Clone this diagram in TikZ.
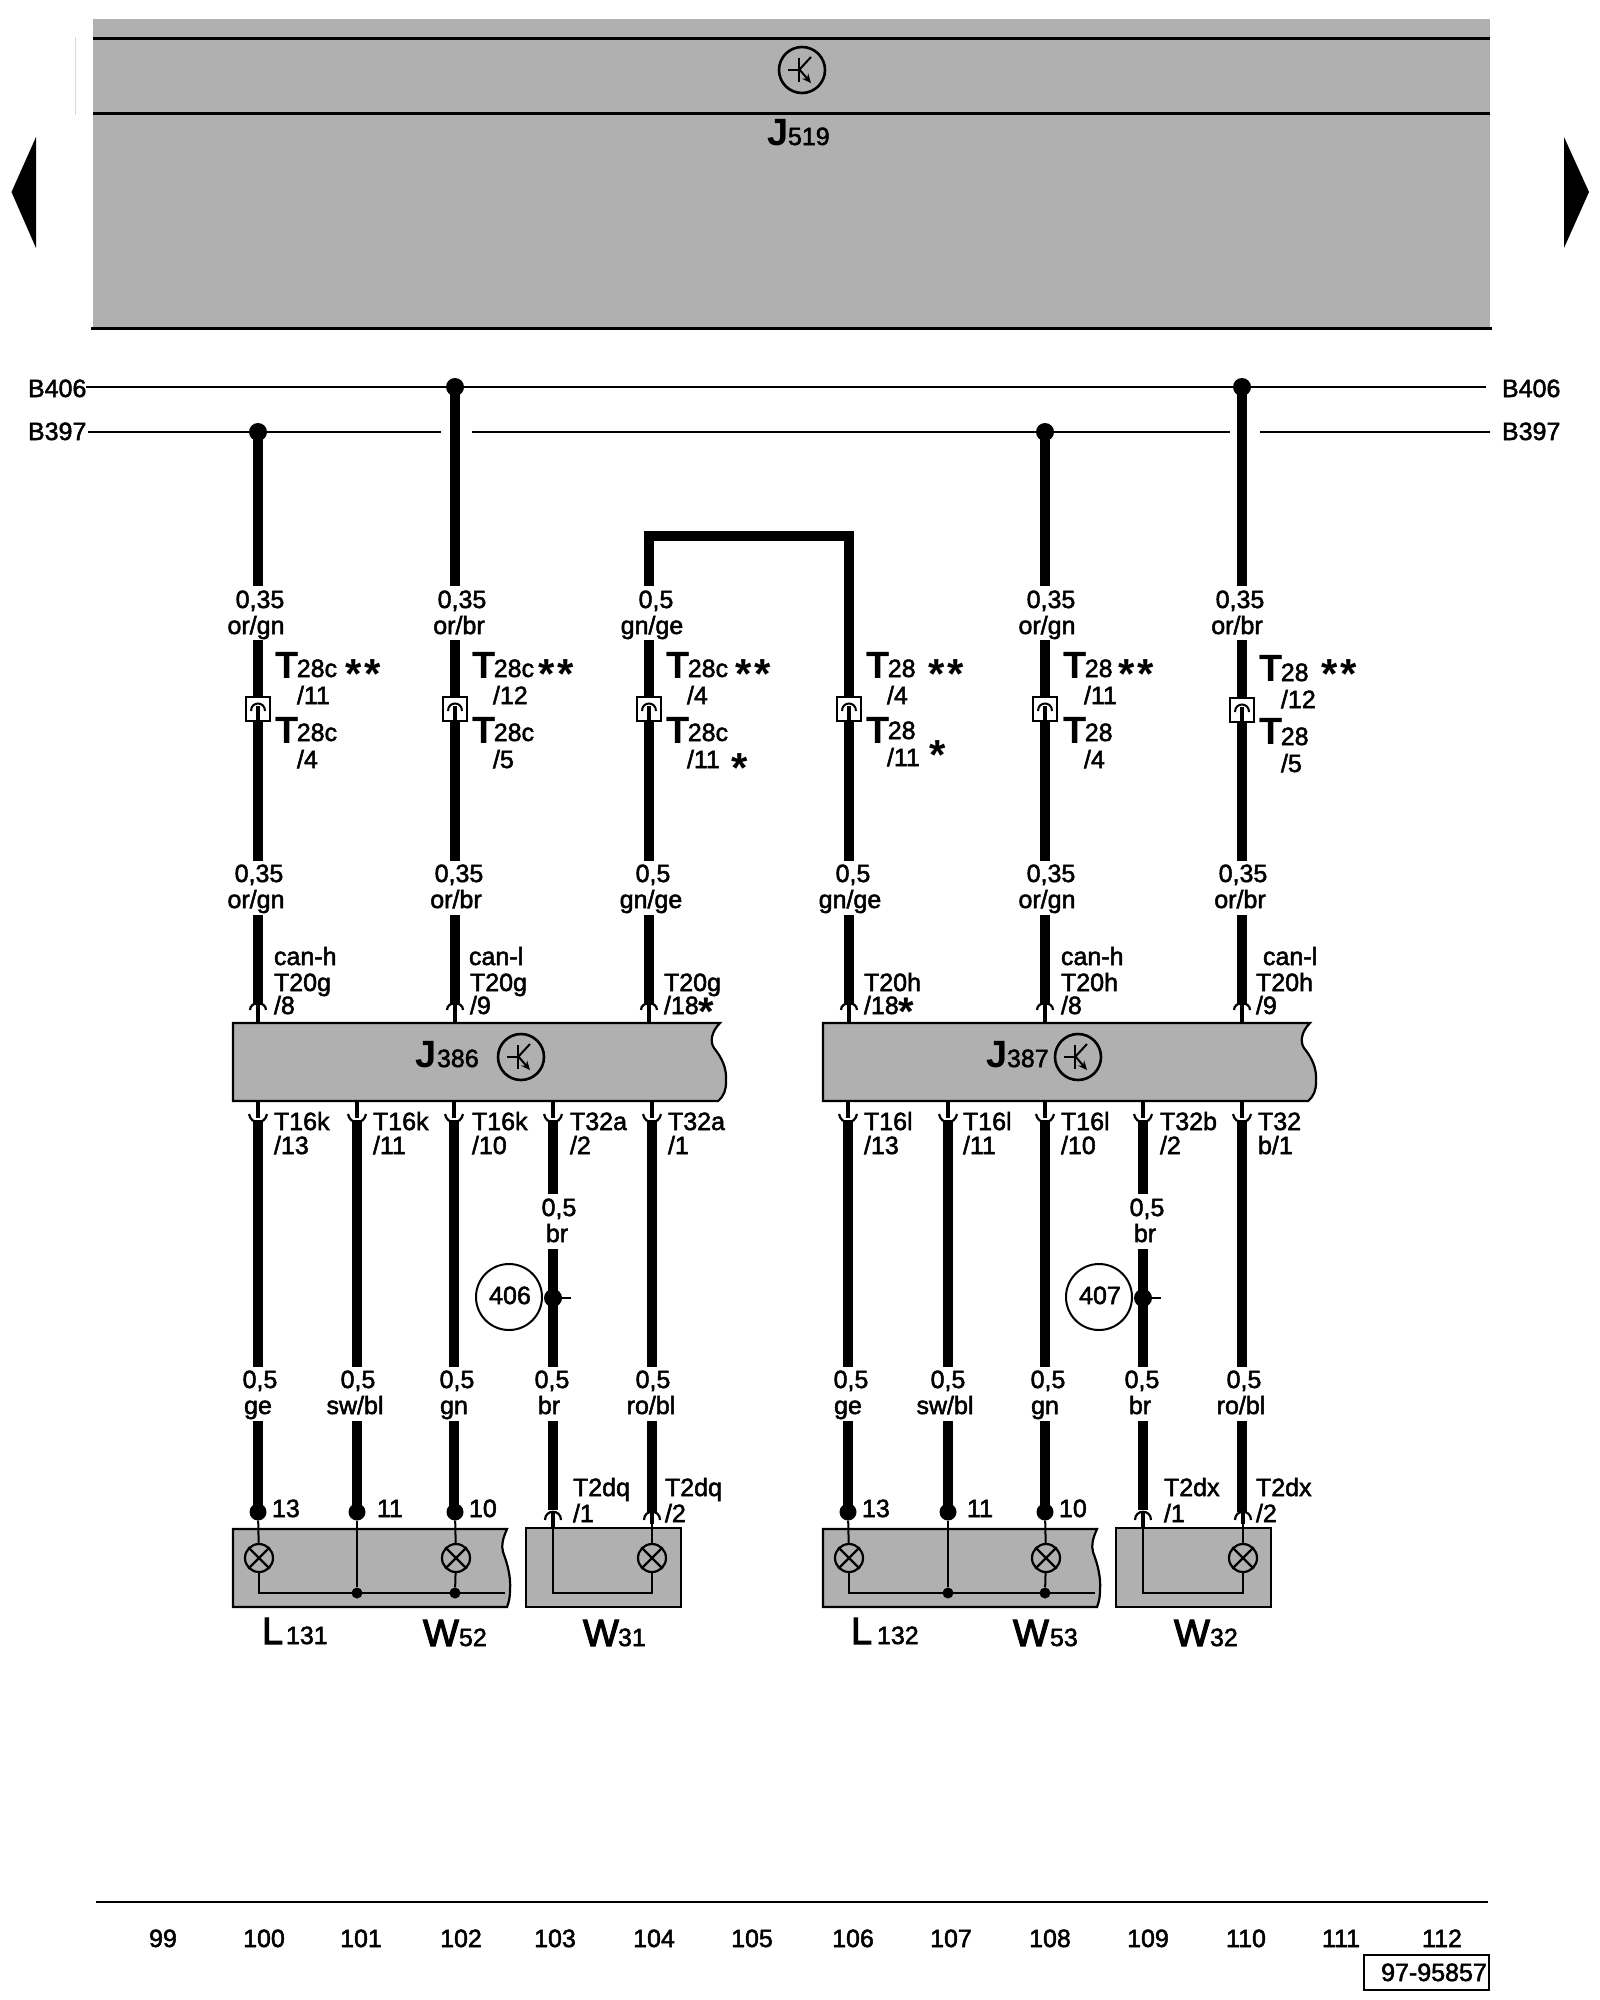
\documentclass[tikz,border=0pt]{standalone}
\usepackage{fontspec}
\usetikzlibrary{arrows.meta}
\setmainfont{Liberation Sans}
\newfontfamily\lab[FakeBold=2]{Liberation Sans}
\newfontfamily\labw[FakeBold=3]{Liberation Sans}
\newfontfamily\labb{Liberation Sans Bold}
\definecolor{blockgrey}{HTML}{B0B0B0}
\tikzset{
  wire/.style={line width=10pt,line cap=butt,line join=miter,black},
  thin wire/.style={line width=2pt,black},
  busline/.style={line width=2.6pt,black},
  greybox/.style={draw=black,line width=2.2pt,fill=blockgrey},
  txt/.style={inner sep=0pt,outer sep=0pt,font=\lab\fontsize{25}{30}\selectfont},
  bigtxt/.style={inner sep=0pt,outer sep=0pt,font=\labw\fontsize{38}{40}\selectfont},
  boldbig/.style={inner sep=0pt,outer sep=0pt,font=\labb\fontsize{38}{40}\selectfont},
  dotnode/.style={circle,fill=black,inner sep=0pt,minimum size=#1},
  splicebox/.style={draw=black,fill=white,line width=2pt,minimum width=24pt,minimum height=24pt,inner sep=0pt},
  lampnode/.style={circle,draw=black,fill=blockgrey,line width=2.2pt,minimum size=28pt,inner sep=0pt},
  transnode/.style={circle,draw=black,line width=2.6pt,minimum size=46pt,inner sep=0pt},
  refnode/.style={circle,draw=black,fill=white,line width=2pt,minimum size=66pt,inner sep=0pt}
}
% text helpers: left / centred on the baseline
\newcommand\tl[4]{\node[txt,anchor=base west] (#1) at (#2,#3) {#4};}
\newcommand\tc[4]{\node[txt,anchor=base] (#1) at (#2,#3) {#4};}
\newcommand\astr[5]{\node[inner sep=0pt,anchor=base,font=\labb\fontsize{#4}{#4}\selectfont] (#1) at (#2,{#3+0.505*#4}) {#5};}
\newcommand\twostar{*\kern3pt*}
\newcommand\inlstar{{\labb\fontsize{40}{40}\selectfont\raisebox{-11pt}{*}}}
\newcommand\wire[4]{\coordinate (#1a) at (#2,#3); \coordinate (#1b) at (#2,#4); \draw[wire] (#1a) -- (#1b);}
% socket: arc over a stem, wire arriving from above
\newcommand\pinup[3]{%
  \coordinate (#1s) at (#2,#3);
  \coordinate (#1t) at (#2,{#3-19});
  \draw[line width=2.2pt] ({#2-8},{#3-13}) .. controls ({#2-8},{#3-22}) and ({#2+8},{#3-22}) .. ({#2+8},{#3-13});
  \draw[line width=3.6pt] (#1s) -- (#1t);}
% fork under a box, wire leaving downward
\newcommand\forkdown[3]{%
  \coordinate (#1s) at (#2,#3);
  \coordinate (#1t) at (#2,{#3+17});
  \draw[line width=2.2pt] ({#2-9},{#3+13}) .. controls ({#2-7},{#3+24}) and ({#2+7},{#3+24}) .. ({#2+9},{#3+13});
  \draw[line width=3.6pt] (#1s) -- (#1t);
  \fill ({#2-5},{#3+19}) -- ({#2+5},{#3+19}) -- ({#2+5},{#3+26}) -- ({#2-5},{#3+26}) -- cycle;}
\newcommand\splice[3]{%
  \node[splicebox] (#1) at (#2,{#3+12}) {};
  \draw[line width=2pt] ({#2-7},{#3+14}) .. controls ({#2-7},{#3+4}) and ({#2+7},{#3+4}) .. ({#2+7},{#3+14});
  \draw[line width=3.4pt] (#2,{#3+9}) -- (#1.south);}
\newcommand\trans[3]{%
  \node[transnode] (#1) at (#2,#3) {};
  \draw[line width=2pt] ({#2-3},{#3-12}) -- ({#2-3},{#3+12});
  \draw[line width=2pt] ({#2-14},#3) -- ({#2-3},#3);
  \draw[line width=2pt] ({#2-3},#3) -- ({#2+9},{#3-13});
  \draw[line width=2pt,-{Stealth[length=9pt,width=8pt]}] ({#2-3},{#3-1}) -- ({#2+9},{#3+13});}
\newcommand\lamp[3]{%
  \node[lampnode] (#1) at (#2,#3) {};
  \draw[line width=2.2pt] (#1.north west) -- (#1.south east);
  \draw[line width=2.2pt] (#1.north east) -- (#1.south west);}
% T connector label: name, T x, T baseline, sub baseline, sub text
\newcommand\bigT[5]{%
  \node[boldbig,anchor=base west] (#1) at (#2,#3) {T\kern-1.4pt\raisebox{\the\numexpr#3-#4\relax pt}{\lab\fontsize{25}{30}\selectfont #5}};}
\begin{document}
\begin{tikzpicture}[x=1pt,y=-1pt]
\useasboundingbox (0,0) rectangle (1600,2000);

% ---- top block J519
\fill[blockgrey] (93,19) rectangle (1490,328);
\draw[line width=3pt] (93,38) -- (1490,38);
\draw[line width=3pt] (93,113) -- (1490,113);
\draw[line width=3pt] (91,328) -- (1492,328);
\draw[line width=1pt,black!15] (75,37) -- (75,115);
\trans{tjmain}{802}{70}
\node[boldbig,anchor=base west] (j519) at (767,145) {J};
\tl{j519n}{788}{145}{519}

% page arrows
\fill (11.5,192) -- (36,137) -- (36,248) -- cycle;
\fill (1589,192) -- (1564,137) -- (1564,248) -- cycle;

% ---- buses
\tl{bl1}{28}{397}{B406}
\tl{bl2}{28}{440}{B397}
\tl{br1}{1502}{397}{B406}
\tl{br2}{1502}{440}{B397}
\coordinate (b1a) at (86,387); \coordinate (b1b) at (1486,387);
\coordinate (b2a) at (88,432); \coordinate (b2b) at (441,432);
\coordinate (b2c) at (472,432); \coordinate (b2d) at (1230,432);
\coordinate (b2e) at (1260,432); \coordinate (b2f) at (1490,432);
\draw[busline] (b1a) -- (b1b);
\draw[busline] (b2a) -- (b2b);
\draw[busline] (b2c) -- (b2d);
\draw[busline] (b2e) -- (b2f);

% ---- upper wires
\wire{ua}{258}{432}{586}\wire{ub}{258}{640}{697}\wire{uc}{258}{721}{861}\wire{ud}{258}{915}{1005}
\wire{va}{455}{387}{586}\wire{vb}{455}{640}{697}\wire{vc}{455}{721}{861}\wire{vd}{455}{915}{1005}
\coordinate (xa) at (649,586); \coordinate (xk1) at (649,536); \coordinate (xk2) at (849,536); \coordinate (ya) at (849,697);
\draw[wire] (xa) -- (xk1) -- (xk2) -- (ya);
\wire{xb}{649}{640}{697}\wire{xc}{649}{721}{861}\wire{xd}{649}{915}{1005}
\wire{yc}{849}{721}{861}\wire{yd}{849}{915}{1005}
\wire{za}{1045}{432}{586}\wire{zb}{1045}{640}{697}\wire{zc}{1045}{721}{861}\wire{zd}{1045}{915}{1005}
\wire{qa}{1242}{387}{586}\wire{qb}{1242}{640}{698}\wire{qc}{1242}{723}{861}\wire{qd}{1242}{915}{1005}
\node[dotnode=18pt] (d1) at (uaa) {};
\node[dotnode=18pt] (d2) at (vaa) {};
\node[dotnode=18pt] (d3) at (zaa) {};
\node[dotnode=18pt] (d4) at (qaa) {};

\splice{s1}{258}{697}\splice{s2}{455}{697}\splice{s3}{649}{697}\splice{s4}{849}{697}\splice{s5}{1045}{697}\splice{s6}{1242}{698}

% ---- wire labels upper rows
\tc{a1}{260}{608}{0,35}\tc{a2}{256}{634}{or/gn}\tc{a3}{259}{882}{0,35}\tc{a4}{256}{908}{or/gn}
\tc{b1}{462}{608}{0,35}\tc{b2}{459}{634}{or/br}\tc{b3}{459}{882}{0,35}\tc{b4}{456}{908}{or/br}
\tc{c1}{656}{608}{0,5}\tc{c2}{652}{634}{gn/ge}\tc{c3}{653}{882}{0,5}\tc{c4}{651}{908}{gn/ge}
\tc{e3}{853}{882}{0,5}\tc{e4}{850}{908}{gn/ge}
\tc{f1}{1051}{608}{0,35}\tc{f2}{1047}{634}{or/gn}\tc{f3}{1051}{882}{0,35}\tc{f4}{1047}{908}{or/gn}
\tc{g1}{1240}{608}{0,35}\tc{g2}{1237}{634}{or/br}\tc{g3}{1243}{882}{0,35}\tc{g4}{1240}{908}{or/br}

% ---- T labels
\bigT{p1}{275}{678}{677}{28c}\astr{p1s}{363}{667}{42}{\twostar}\tl{p1p}{297}{704}{/11}
\bigT{p2}{275}{743}{741}{28c}\tl{p2p}{297}{768}{/4}
\bigT{q1}{472}{678}{677}{28c}\astr{q1s}{556}{667}{42}{\twostar}\tl{q1p}{493}{704}{/12}
\bigT{q2}{472}{743}{741}{28c}\tl{q2p}{493}{768}{/5}
\bigT{r1}{666}{678}{677}{28c}\astr{r1s}{753}{667}{42}{\twostar}\tl{r1p}{687}{704}{/4}
\bigT{r2}{666}{743}{741}{28c}\tl{r2p}{687}{768}{/11}\astr{r2s}{740}{761}{42}{*}
\bigT{s1x}{866}{678}{677}{28}\astr{s1s}{946}{667}{42}{\twostar}\tl{s1p}{887}{704}{/4}
\bigT{s2x}{866}{743}{739}{28}\tl{s2p}{887}{766}{/11}\astr{s2s}{938}{748}{42}{*}
\bigT{t1}{1063}{678}{677}{28}\astr{t1s}{1136}{667}{42}{\twostar}\tl{t1p}{1084}{704}{/11}
\bigT{t2}{1063}{743}{741}{28}\tl{t2p}{1084}{768}{/4}
\bigT{w1}{1259}{681}{681}{28}\astr{w1s}{1339}{667}{42}{\twostar}\tl{w1p}{1281}{708}{/12}
\bigT{w2}{1259}{744}{745}{28}\tl{w2p}{1281}{772}{/5}

% ---- J386 / J387 boxes
\draw[greybox] (233,1023) -- (720,1023) .. controls (711,1032) and (710,1042) .. (714,1048) .. controls (722,1058) and (727,1068) .. (726,1082) .. controls (726,1090) and (724,1096) .. (718,1101) -- (233,1101) -- cycle;
\draw[greybox] (823,1023) -- (1310,1023) .. controls (1301,1032) and (1300,1042) .. (1304,1048) .. controls (1312,1058) and (1317,1068) .. (1316,1082) .. controls (1316,1090) and (1314,1096) .. (1308,1101) -- (823,1101) -- cycle;
\node[boldbig,anchor=base west] (j386) at (415,1067) {J};
\tl{j386n}{437}{1067}{386}
\trans{tj386}{521}{1057}
\node[boldbig,anchor=base west] (j387) at (986,1067) {J};
\tl{j387n}{1007}{1067}{387}
\trans{tj387}{1078}{1057}

% upper pins
\pinup{pa}{258}{1023}\pinup{pb}{455}{1023}\pinup{pc}{649}{1023}\pinup{pd}{849}{1023}\pinup{pe}{1045}{1023}\pinup{pf}{1242}{1023}
\tl{la1}{274}{965}{can-h}\tl{la2}{274}{991}{T20g}\tl{la3}{274}{1014}{/8}
\tl{lb1}{469}{965}{can-l}\tl{lb2}{470}{991}{T20g}\tl{lb3}{470}{1014}{/9}
\tl{lc2}{664}{991}{T20g}\tl{lc3}{664}{1014}{/18\inlstar}
\tl{ld2}{864}{991}{T20h}\tl{ld3}{864}{1014}{/18\inlstar}
\tl{le1}{1061}{965}{can-h}\tl{le2}{1061}{991}{T20h}\tl{le3}{1061}{1014}{/8}
\tl{lf1}{1263}{965}{can-l}\tl{lf2}{1256}{991}{T20h}\tl{lf3}{1256}{1014}{/9}

% ---- lower wires J386
\foreach \nm/\xx in {m/258,n/357,o/454,pp/652}{
  \forkdown{\nm f}{\xx}{1101}
  \wire{\nm a}{\xx}{1125}{1367}
  \wire{\nm b}{\xx}{1421}{1512}
}
\forkdown{rf}{553}{1101}
\wire{ra}{553}{1125}{1194}\wire{rb}{553}{1249}{1367}\wire{rc}{553}{1421}{1510}
\foreach \nm/\xx in {mm/848,nn/948,oo/1045,ww/1242}{
  \forkdown{\nm f}{\xx}{1101}
  \wire{\nm a}{\xx}{1125}{1367}
  \wire{\nm b}{\xx}{1421}{1512}
}
\forkdown{rrf}{1143}{1101}
\wire{rra}{1143}{1125}{1194}\wire{rrb}{1143}{1249}{1367}\wire{rrc}{1143}{1421}{1510}

\tl{k1}{274}{1130}{T16k}\tl{k2}{274}{1154}{/13}
\tl{k3}{373}{1130}{T16k}\tl{k4}{373}{1154}{/11}
\tl{k5}{472}{1130}{T16k}\tl{k6}{472}{1154}{/10}
\tl{k7}{570}{1130}{T32a}\tl{k8}{570}{1154}{/2}
\tl{k9}{668}{1130}{T32a}\tl{k10}{668}{1154}{/1}
\tl{h1}{864}{1130}{T16l}\tl{h2}{864}{1154}{/13}
\tl{h3}{963}{1130}{T16l}\tl{h4}{963}{1154}{/11}
\tl{h5}{1061}{1130}{T16l}\tl{h6}{1061}{1154}{/10}
\tl{h7}{1160}{1130}{T32b}\tl{h8}{1160}{1154}{/2}
\tl{h9}{1258}{1130}{T32}\tl{h10}{1258}{1154}{b/1}

\tc{v1}{559}{1216}{0,5}\tc{v2}{557}{1242}{br}
\tc{v3}{1147}{1216}{0,5}\tc{v4}{1145}{1242}{br}

% reference circles
\node[refnode] (c406) at (509,1297) {};
\tc{c406t}{510}{1304}{406}
\node[dotnode=18pt] (c406d) at (553,1298) {};
\coordinate (c406e) at (571,1298);
\draw[line width=2pt] (c406d) -- (c406e);
\node[refnode] (c407) at (1099,1297) {};
\tc{c407t}{1100}{1304}{407}
\node[dotnode=18pt] (c407d) at (1143,1298) {};
\coordinate (c407e) at (1161,1298);
\draw[line width=2pt] (c407d) -- (c407e);

% lower labels
\tc{g01}{260}{1388}{0,5}\tc{g02}{258}{1414}{ge}
\tc{g03}{358}{1388}{0,5}\tc{g04}{355}{1414}{sw/bl}
\tc{g05}{457}{1388}{0,5}\tc{g06}{454}{1414}{gn}
\tc{g07}{552}{1388}{0,5}\tc{g08}{549}{1414}{br}
\tc{g09}{653}{1388}{0,5}\tc{g10}{651}{1414}{ro/bl}
\tc{g11}{851}{1388}{0,5}\tc{g12}{848}{1414}{ge}
\tc{g13}{948}{1388}{0,5}\tc{g14}{945}{1414}{sw/bl}
\tc{g15}{1048}{1388}{0,5}\tc{g16}{1045}{1414}{gn}
\tc{g17}{1142}{1388}{0,5}\tc{g18}{1140}{1414}{br}
\tc{g19}{1244}{1388}{0,5}\tc{g20}{1241}{1414}{ro/bl}

% ---- lamp boxes
\draw[greybox] (233,1529) -- (507,1529) .. controls (503,1538) and (501,1545) .. (503,1552) .. controls (508,1565) and (511,1578) .. (510,1590) .. controls (510,1597) and (509,1602) .. (507,1607) -- (233,1607) -- cycle;
\draw[greybox] (526,1528) rectangle (681,1607);
\draw[greybox] (823,1529) -- (1097,1529) .. controls (1093,1538) and (1091,1545) .. (1093,1552) .. controls (1098,1565) and (1101,1578) .. (1100,1590) .. controls (1100,1597) and (1099,1602) .. (1097,1607) -- (823,1607) -- cycle;
\draw[greybox] (1116,1528) rectangle (1271,1607);

% left group
\lamp{la}{259}{1558}\lamp{lb}{456}{1558}\lamp{lc}{652}{1558}
\node[dotnode=17pt] (e1) at (258,1512) {};
\node[dotnode=17pt] (e2) at (357,1512) {};
\node[dotnode=17pt] (e3x) at (455,1512) {};
\node[dotnode=11pt] (e4x) at (357,1593) {};
\node[dotnode=11pt] (e5x) at (455,1593) {};
\coordinate (fl1) at (259,1593); \coordinate (fl2) at (505,1593);
\coordinate (fl3) at (553,1593); \coordinate (fl4) at (652,1593);
\coordinate (fl5) at (553,1512); \coordinate (fl6) at (652,1510);
\draw[thin wire] (e1) -- (la);
\draw[thin wire] (e3x) -- (lb);
\draw[thin wire] (e2) -- (e4x);
\draw[thin wire] (la) -- (fl1) -- (fl2);
\draw[thin wire] (lb) -- (e5x);
\draw[thin wire] (fl5) -- (fl3) -- (fl4) -- (lc);
\draw[thin wire] (fl6) -- (lc);
\draw[line width=2.2pt] (545,1520) .. controls (545,1509) and (561,1509) .. (561,1520);
\draw[line width=2.2pt] (644,1520) .. controls (644,1509) and (660,1509) .. (660,1520);
\draw[line width=3.4pt] (553,1512) -- (553,1528);
\draw[line width=3.4pt] (652,1512) -- (652,1524);

% right group
\lamp{ra}{849}{1558}\lamp{rb}{1046}{1558}\lamp{rc}{1243}{1558}
\node[dotnode=17pt] (n1) at (848,1512) {};
\node[dotnode=17pt] (n2) at (948,1512) {};
\node[dotnode=17pt] (n3) at (1045,1512) {};
\node[dotnode=11pt] (n4) at (948,1593) {};
\node[dotnode=11pt] (n5) at (1045,1593) {};
\coordinate (fr1) at (849,1593); \coordinate (fr2) at (1095,1593);
\coordinate (fr3) at (1143,1593); \coordinate (fr4) at (1243,1593);
\coordinate (fr5) at (1143,1512); \coordinate (fr6) at (1243,1510);
\draw[thin wire] (n1) -- (ra);
\draw[thin wire] (n3) -- (rb);
\draw[thin wire] (n2) -- (n4);
\draw[thin wire] (ra) -- (fr1) -- (fr2);
\draw[thin wire] (rb) -- (n5);
\draw[thin wire] (fr5) -- (fr3) -- (fr4) -- (rc);
\draw[thin wire] (fr6) -- (rc);
\draw[line width=2.2pt] (1135,1520) .. controls (1135,1509) and (1151,1509) .. (1151,1520);
\draw[line width=2.2pt] (1235,1520) .. controls (1235,1509) and (1251,1509) .. (1251,1520);
\draw[line width=3.4pt] (1143,1512) -- (1143,1528);
\draw[line width=3.4pt] (1243,1512) -- (1243,1524);

% pin labels at the lamps
\tl{y1}{272}{1517}{13}\tl{y2}{377}{1517}{11}\tl{y3}{469}{1517}{10}
\tl{y4}{573}{1496}{T2dq}\tl{y5}{573}{1522}{/1}\tl{y6}{665}{1496}{T2dq}\tl{y7}{665}{1522}{/2}
\tl{y8}{862}{1517}{13}\tl{y9}{967}{1517}{11}\tl{y10}{1059}{1517}{10}
\tl{y11}{1164}{1496}{T2dx}\tl{y12}{1164}{1522}{/1}\tl{y13}{1256}{1496}{T2dx}\tl{y14}{1256}{1522}{/2}

% component names
\node[bigtxt,anchor=base west] (nL1) at (262,1644) {L};\tl{nL1n}{286}{1644}{131}
\node[bigtxt,anchor=base west] (nW1) at (423,1646) {W};\tl{nW1n}{459}{1646}{52}
\node[bigtxt,anchor=base west] (nW2) at (583,1646) {W};\tl{nW2n}{618}{1646}{31}
\node[bigtxt,anchor=base west] (nL2) at (851,1644) {L};\tl{nL2n}{877}{1644}{132}
\node[bigtxt,anchor=base west] (nW3) at (1013,1646) {W};\tl{nW3n}{1050}{1646}{53}
\node[bigtxt,anchor=base west] (nW4) at (1174,1646) {W};\tl{nW4n}{1210}{1646}{32}

% ---- footer
\coordinate (fa) at (96,1902); \coordinate (fb) at (1488,1902);
\draw[line width=2.6pt] (fa) -- (fb);
\foreach \nn/\xx in {99/163,100/264,101/361,102/461,103/555,104/654,105/752,106/853,107/951,108/1050,109/1148,110/1246,111/1341,112/1442}{
  \node[txt,anchor=base] (col\nn) at (\xx,1947) {\nn};
}
\node[draw=black,line width=2.2pt,minimum width=125pt,minimum height=35pt,inner sep=0pt] (refbox) at (1426.5,1972.5) {};
\tc{reft}{1434}{1981}{97-95857}
\end{tikzpicture}
\end{document}
